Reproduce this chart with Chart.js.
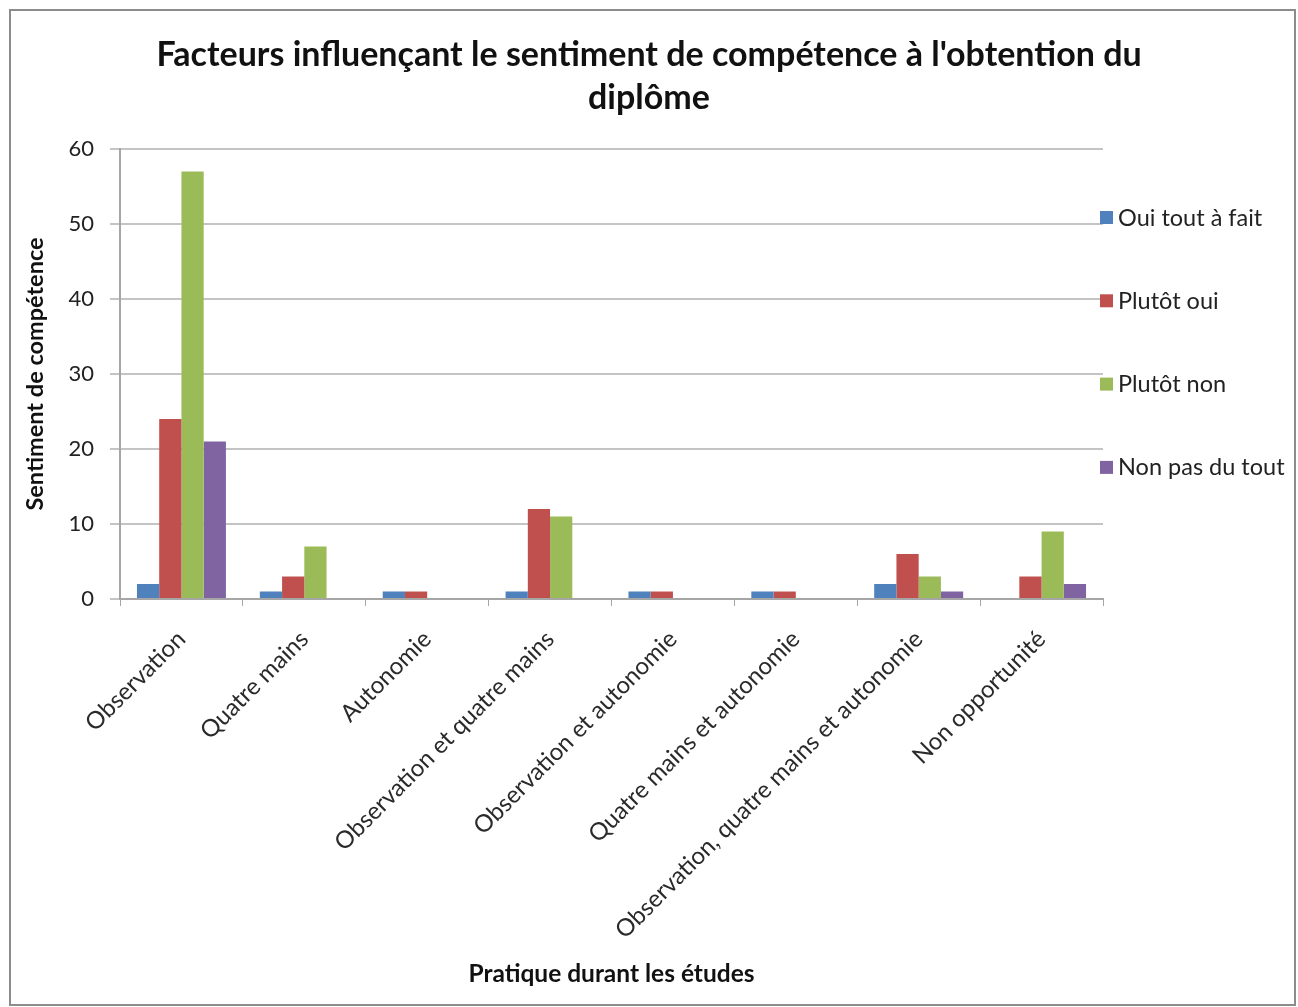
<!DOCTYPE html>
<html>
<head>
<meta charset="utf-8">
<script src="https://cdn.jsdelivr.net/npm/chart.js@4/dist/chart.umd.min.js"></script>
<style>
html,body{margin:0;padding:0;background:#fff;}
#wrap{position:absolute;left:0;top:0;width:1298px;height:1007px;}
</style>
</head>
<body>
<div id="wrap"><canvas id="c" width="1298" height="1007"></canvas></div>
<script>
const categories = ["Observation", "Quatre mains", "Autonomie", "Observation et quatre mains", "Observation et autonomie", "Quatre mains et autonomie", "Observation, quatre mains et autonomie", "Non opportunité"];
const seriesNames = ["Oui tout à fait", "Plutôt oui", "Plutôt non", "Non pas du tout"];
const ouiToutAFait = [2, 1, 1, 1, 1, 1, 2, 0];
const plutotOui = [24, 3, 1, 12, 1, 1, 6, 3];
const plutotNon = [57, 7, 0, 11, 0, 0, 3, 9];
const nonPasDuTout = [21, 0, 0, 0, 0, 0, 1, 2];
const yTicks = [0, 10, 20, 30, 40, 50, 60];
const colors = ["#4F81BD", "#C0504D", "#9BBB59", "#8064A2"];
const titleLines = ["Facteurs influençant le sentiment de compétence à l'obtention du", "diplôme"];
const xTitle = "Pratique durant les études";
const yTitle = "Sentiment de compétence";

const FONT = "Lato, 'Open Sans', sans-serif";

const frame = {
  id: 'frame',
  afterLayout(chart) {
    const tb = chart.titleBlock;
    if (tb) { tb.left = 0; tb.right = chart.width; tb.width = chart.width; }
  },
  beforeDraw(chart) {
    const ctx = chart.ctx;
    ctx.save();
    ctx.fillStyle = '#fff';
    ctx.fillRect(0, 0, chart.width, chart.height);
    ctx.strokeStyle = '#8c8c8c';
    ctx.lineWidth = 2;
    ctx.strokeRect(10, 10, 1285, 995);
    ctx.restore();
  }
};

const sideLegend = {
  id: 'sideLegend',
  afterDraw(chart) {
    const ctx = chart.ctx;
    ctx.save();
    ctx.font = "23.5px " + FONT;
    ctx.textBaseline = 'middle';
    chart.data.datasets.forEach((ds, i) => {
      const y = 217 + i * 83.3;
      ctx.fillStyle = ds.backgroundColor;
      ctx.fillRect(1100, y - 6, 13, 13);
      ctx.fillStyle = '#222';
      ctx.fillText(ds.label, 1118, y + 1);
    });
    ctx.restore();
  }
};

const datasets = [ouiToutAFait, plutotOui, plutotNon, nonPasDuTout].map((d, i) => ({
  label: seriesNames[i],
  data: d,
  backgroundColor: colors[i],
  borderWidth: 0,
  categoryPercentage: 0.724,
  barPercentage: 1.0
}));

new Chart(document.getElementById('c'), {
  type: 'bar',
  data: { labels: categories, datasets },
  plugins: [frame, sideLegend],
  options: {
    responsive: false,
    animation: false,
    layout: { padding: { left: 20, right: 195, top: 0, bottom: 18 } },
    plugins: {
      legend: { display: false },
      tooltip: { enabled: false },
      title: {
        display: true,
        text: titleLines,
        color: '#111',
        font: { family: FONT, size: 34, weight: 'bold', lineHeight: 1.265 },
        padding: { top: 34, bottom: 29 }
      }
    },
    scales: {
      x: {
        grid: { display: true, drawOnChartArea: false, drawTicks: true, tickLength: 7, color: '#a6a6a6', offset: true },
        border: { display: true, color: '#a6a6a6', width: 2 },
        ticks: {
          minRotation: 45, maxRotation: 45, autoSkip: false,
          color: '#2a2a2a', padding: 19,
          font: { family: FONT, size: 24 }
        },
        title: {
          display: true, text: xTitle, color: '#111',
          font: { family: FONT, size: 24.5, weight: 'bold', lineHeight: 1.2 },
          padding: { top: 0, bottom: 0 }
        },
        afterFit(scale) { scale.height = 390; }
      },
      y: {
        min: 0, max: 60,
        afterBuildTicks(scale) { scale.ticks = yTicks.map(v => ({ value: v })); },
        grid: { color: '#c4c4c4', lineWidth: 2, drawTicks: true, tickLength: 10 },
        border: { display: true, color: '#a6a6a6', width: 2 },
        ticks: {
          color: '#222', padding: 16,
          font: { family: FONT, size: 22 }
        },
        title: {
          display: true, text: yTitle, color: '#111',
          font: { family: FONT, size: 23.5, weight: 'bold', lineHeight: 1.2 },
          padding: { top: 1, bottom: 4 }
        },
        afterFit(scale) { scale.width = 100; }
      }
    }
  }
});
</script>
</body>
</html>
